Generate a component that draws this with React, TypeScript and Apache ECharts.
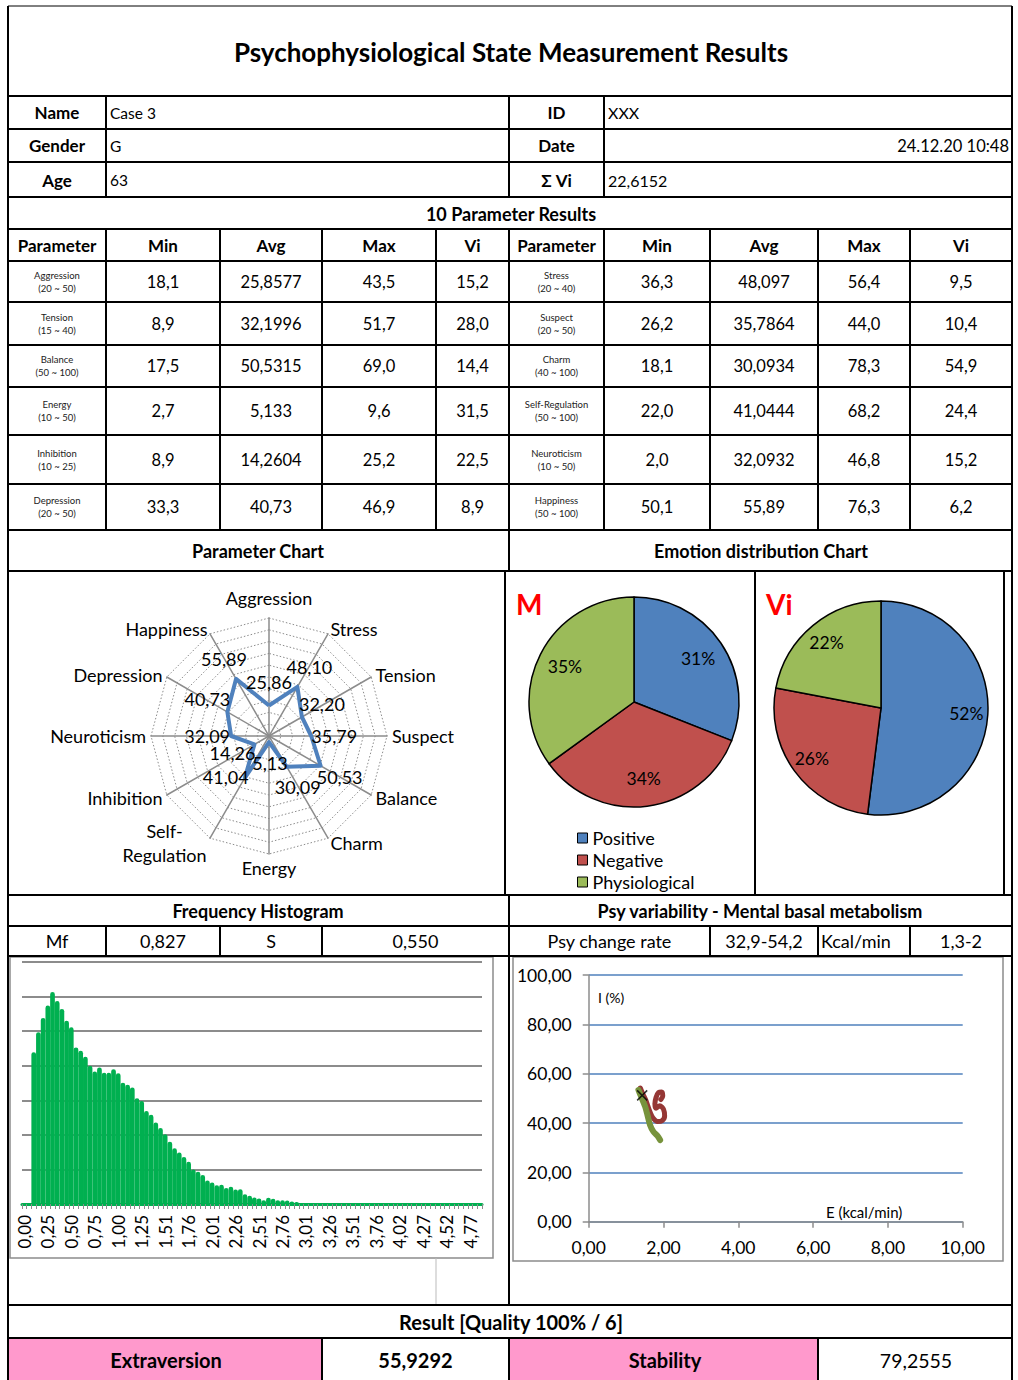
import React, { useEffect, useRef } from 'react';
import * as echarts from 'echarts';

const FONT = 'Lato';

// ---------- table data ----------
const TITLE = 'Psychophysiological State Measurement Results';
const INFO_LEFT_LABELS = ['Name', 'Gender', 'Age'];
const INFO_LEFT_VALUES = ['Case 3', 'G', '63'];
const INFO_RIGHT_LABELS = ['ID', 'Date', 'Σ Vi'];
const INFO_RIGHT_VALUES = ['XXX', '', '22,6152'];
const DATE_VALUE = '24.12.20 10:48';
const HEADERS = ['Parameter', 'Min', 'Avg', 'Max', 'Vi', 'Parameter', 'Min', 'Avg', 'Max', 'Vi'];

const LEFT_PARAMS = ['Aggression', 'Tension', 'Balance', 'Energy', 'Inhibition', 'Depression'];
const LEFT_RANGES = ['(20 ~ 50)', '(15 ~ 40)', '(50 ~ 100)', '(10 ~ 50)', '(10 ~ 25)', '(20 ~ 50)'];
const LEFT_MIN = ['18,1', '8,9', '17,5', '2,7', '8,9', '33,3'];
const LEFT_AVG = ['25,8577', '32,1996', '50,5315', '5,133', '14,2604', '40,73'];
const LEFT_MAX = ['43,5', '51,7', '69,0', '9,6', '25,2', '46,9'];
const LEFT_VI = ['15,2', '28,0', '14,4', '31,5', '22,5', '8,9'];
const RIGHT_PARAMS = ['Stress', 'Suspect', 'Charm', 'Self-Regulation', 'Neuroticism', 'Happiness'];
const RIGHT_RANGES = ['(20 ~ 40)', '(20 ~ 50)', '(40 ~ 100)', '(50 ~ 100)', '(10 ~ 50)', '(50 ~ 100)'];
const RIGHT_MIN = ['36,3', '26,2', '18,1', '22,0', '2,0', '50,1'];
const RIGHT_AVG = ['48,097', '35,7864', '30,0934', '41,0444', '32,0932', '55,89'];
const RIGHT_MAX = ['56,4', '44,0', '78,3', '68,2', '46,8', '76,3'];
const RIGHT_VI = ['9,5', '10,4', '54,9', '24,4', '15,2', '6,2'];

const MF_ROW = ['Mf', '0,827', 'S', '0,550'];
const PSY_ROW = ['Psy change rate', '32,9-54,2', 'Kcal/min', '1,3-2'];
const RESULT_TITLE = 'Result [Quality 100% / 6]';
const RESULT_ROW = ['Extraversion', '55,9292', 'Stability', '79,2555'];

// ---------- radar (clockwise from top) ----------
const RADAR_AXES = ['Aggression', 'Stress', 'Tension', 'Suspect', 'Balance', 'Charm', 'Energy',
  'Self-Regulation', 'Inhibition', 'Neuroticism', 'Depression', 'Happiness'];
const RADAR_VALUES = [25.86, 48.10, 32.20, 35.79, 50.53, 30.09, 5.13, 41.04, 14.26, 32.09, 40.73, 55.89];
const RADAR_MAX = 100;
// label offsets (style only), clockwise order
const RADAR_LABEL_OFFSETS = [[0, -23], [12, -20], [20, -13], [23, 0], [19, 11], [11, 20], [1, 21],
  [-19, -1], [-22, 9], [-24, 0], [-20, -13], [-12, -20]];

// ---------- pies ----------
const PIE_NAMES = ['Positive', 'Negative', 'Physiological'];
const PIE_M = [31, 34, 35];
const PIE_VI = [52, 26, 22];
const PIE_COLORS = ['#4F81BD', '#C0504D', '#9BBB59'];

// ---------- histogram ----------
const HIST_TICK_LABELS = ['0,00', '0,25', '0,50', '0,75', '1,00', '1,25', '1,51', '1,76', '2,01', '2,26',
  '2,51', '2,76', '3,01', '3,26', '3,51', '3,76', '4,02', '4,27', '4,52', '4,77'];
const HIST_LABEL_EVERY = 5;
const HIST_VALUES = [
  0, 0, 43.9, 49.7, 53.8, 57.4, 61.3, 58.7, 56.4, 53.0,
  51.1, 45.3, 44.3, 42.6, 40.0, 38.3, 39.5, 38.0, 38.0, 39.0,
  37.8, 35.1, 34.5, 33.7, 30.6, 29.8, 26.9, 25.8, 23.6, 22.0,
  20.2, 18.0, 16.1, 14.9, 13.6, 12.2, 10.0, 9.3, 8.4, 6.8,
  6.2, 5.4, 5.6, 4.6, 5.0, 4.2, 4.3, 2.8, 2.4, 1.9,
  1.6, 1.1, 1.8, 1.5, 1.1, 1.1, 1.0, 0.7, 0.6, 0,
  0, 0, 0, 0, 0, 0, 0, 0, 0, 0,
  0, 0, 0, 0, 0, 0, 0, 0, 0, 0,
  0, 0, 0, 0, 0, 0, 0, 0, 0, 0,
  0, 0, 0, 0, 0, 0, 0, 0,
];

// ---------- scatter (E kcal/min, I %) ----------
const PSY_RED = [[1.38, 54.2], [1.44, 52.0], [1.52, 49.5], [1.58, 47.0], [1.64, 44.5], [1.72, 42.0],
  [1.84, 40.6], [1.96, 40.9], [2.03, 42.8], [2.00, 45.6], [1.90, 47.0], [1.80, 46.0], [1.77, 47.8],
  [1.80, 50.3], [1.87, 52.4], [1.95, 52.6], [1.98, 51.0], [1.93, 49.5]];
const PSY_GREEN = [[1.33, 53.4], [1.38, 51.5], [1.42, 50.0], [1.47, 48.2], [1.51, 46.6], [1.57, 43.3],
  [1.64, 39.2], [1.73, 36.5], [1.84, 34.8], [1.91, 33.1]];
const PSY_MARK = [[1.43, 51.2]];

const fmt2 = (v: number) => v.toFixed(2).replace('.', ',');

function buildGraphics() {
  const g: any[] = [];
  const line = (x1: number, y1: number, x2: number, y2: number, w = 2, c = '#000') =>
    g.push({ type: 'line', silent: true, z: 50, shape: { x1, y1, x2, y2 }, style: { stroke: c, lineWidth: w } });
  const text = (t: string, x: number, y: number, size = 16, bold = false, align = 'center', color = '#000') =>
    g.push({
      type: 'text', silent: true, z: 60, x, y,
      style: {
        text: t, fill: color, font: `${bold ? 'bold ' : ''}${size}px ${FONT}`,
        align, verticalAlign: 'middle', textAlign: align, textVerticalAlign: 'middle',
      },
    });

  // pink fills
  g.push({ type: 'rect', silent: true, z: 1, shape: { x: 8, y: 1338, width: 314, height: 42 }, style: { fill: '#FF99CC' } });
  g.push({ type: 'rect', silent: true, z: 1, shape: { x: 509, y: 1338, width: 309, height: 42 }, style: { fill: '#FF99CC' } });

  // chart area borders (grey)
  g.push({ type: 'rect', silent: true, z: 1, shape: { x: 10, y: 957, width: 483, height: 301 }, style: { fill: 'none', stroke: '#8C8C8C', lineWidth: 1.5 } });
  g.push({ type: 'rect', silent: true, z: 1, shape: { x: 513, y: 957, width: 490, height: 304 }, style: { fill: 'none', stroke: '#8C8C8C', lineWidth: 1.5 } });
  line(436, 1258, 436, 1305, 1, '#BBBBBB');

  // outer frame
  line(8, 6, 1012, 6, 1);
  line(8, 6, 8, 1380, 2);
  line(1012, 6, 1012, 1380, 2);

  // horizontal lines
  [96, 129, 162, 197, 229, 261, 302, 345, 387, 435, 484, 530, 571, 895, 926, 956, 1305, 1338]
    .forEach((y) => line(8, y, 1012, y, 2));

  // vertical lines
  [106, 509, 604].forEach((x) => line(x, 96, x, 197));
  [106, 220, 322, 436, 509, 604, 710, 818, 910].forEach((x) => line(x, 229, x, 530));
  line(509, 530, 509, 571);
  [505, 755, 1004].forEach((x) => line(x, 571, x, 895, 2));
  line(509, 895, 509, 926);
  [106, 220, 322, 509, 710, 818, 910].forEach((x) => line(x, 926, x, 956));
  line(509, 956, 509, 1305);
  [322, 509, 818].forEach((x) => line(x, 1338, x, 1380));

  // title
  text(TITLE, 511, 52, 26, true);

  // info rows
  const infoY = [112.5, 145.5, 180];
  infoY.forEach((y, i) => {
    text(INFO_LEFT_LABELS[i], 57, y, 17, true);
    text(INFO_LEFT_VALUES[i], 110, y, 15.5, false, 'left');
    text(INFO_RIGHT_LABELS[i], 556.5, y, 17, true);
    if (INFO_RIGHT_VALUES[i]) text(INFO_RIGHT_VALUES[i], 608, y, 16, false, 'left');
  });
  text(DATE_VALUE, 1009, infoY[1], 16.5, false, 'right');

  text('10 Parameter Results', 511, 213.5, 18, true);
  const colCenters = [57, 163, 271, 379, 472.5, 556.5, 657, 764, 864, 961];
  HEADERS.forEach((h, i) => text(h, colCenters[i], 245, 17, true));

  const rowsY = [261, 302, 345, 387, 435, 484, 530];
  for (let i = 0; i < 6; i++) {
    const cy = (rowsY[i] + rowsY[i + 1]) / 2;
    text(LEFT_PARAMS[i], 57, cy - 6.5, 9.5, false, 'center', '#222');
    text(LEFT_RANGES[i], 57, cy + 6.5, 9.5, false, 'center', '#222');
    text(LEFT_MIN[i], colCenters[1], cy, 16.5);
    text(LEFT_AVG[i], colCenters[2], cy, 16.5);
    text(LEFT_MAX[i], colCenters[3], cy, 16.5);
    text(LEFT_VI[i], colCenters[4], cy, 16.5);
    text(RIGHT_PARAMS[i], 556.5, cy - 6.5, 9.5, false, 'center', '#222');
    text(RIGHT_RANGES[i], 556.5, cy + 6.5, 9.5, false, 'center', '#222');
    text(RIGHT_MIN[i], colCenters[6], cy, 16.5);
    text(RIGHT_AVG[i], colCenters[7], cy, 16.5);
    text(RIGHT_MAX[i], colCenters[8], cy, 16.5);
    text(RIGHT_VI[i], colCenters[9], cy, 16.5);
  }

  text('Parameter Chart', 258, 551, 18, true);
  text('Emotion distribution Chart', 761, 551, 18, true);
  text('M', 516, 604, 28, true, 'left', '#FF0000');
  text('Vi', 766, 604, 28, true, 'left', '#FF0000');

  text('Frequency Histogram', 258, 911, 18, true);
  text('Psy variability - Mental basal metabolism', 760, 911, 18, true);
  const mfX = [57, 163, 271, 415.5];
  MF_ROW.forEach((t, i) => text(t, mfX[i], 941, 18));
  text(PSY_ROW[0], 609.5, 941, 18);
  text(PSY_ROW[1], 764, 941, 18);
  text(PSY_ROW[2], 821, 941, 18, false, 'left');
  text(PSY_ROW[3], 961, 941, 18);

  text('I (%)', 598, 997, 14, false, 'left');
  text('E (kcal/min)', 826, 1212, 15, false, 'left');

  text(RESULT_TITLE, 511, 1322, 20, true);
  text(RESULT_ROW[0], 166, 1360, 20, true);
  text(RESULT_ROW[1], 415.5, 1360, 20, true);
  text(RESULT_ROW[2], 665, 1360, 20, true);
  text(RESULT_ROW[3], 916, 1360, 19.5, false);
  return g;
}

function buildOption() {
  // ECharts radar runs counter-clockwise; reorder to reproduce clockwise layout.
  const ccw = [0, 11, 10, 9, 8, 7, 6, 5, 4, 3, 2, 1];
  const indicators = ccw.map((i) => ({ name: RADAR_AXES[i], max: RADAR_MAX, min: 0 }));
  const valuesCCW = ccw.map((i) => RADAR_VALUES[i]);

  const radarLabelSeries = ccw.map((origIdx, k) => ({
    type: 'radar',
    radarIndex: 0,
    silent: true,
    z: 3,
    symbol: 'circle',
    symbolSize: 1,
    itemStyle: { color: 'rgba(0,0,0,0)' },
    lineStyle: { width: 0, color: 'rgba(0,0,0,0)' },
    label: {
      show: true,
      position: 'inside',
      offset: RADAR_LABEL_OFFSETS[origIdx],
      fontSize: 18,
      lineHeight: 18,
      fontFamily: FONT,
      color: '#000',
      formatter: (p: any) => {
        let dim = p.dimensionIndex;
        let v = p.value;
        if (Array.isArray(v)) v = dim != null ? v[dim] : NaN;
        if (dim == null) dim = valuesCCW.indexOf(v);
        return dim === k ? fmt2(v) : '';
      },
    },
    data: [{ value: valuesCCW }],
  }));

  const pieBase = {
    type: 'pie',
    startAngle: 90,
    clockwise: true,
    silent: true,
    avoidLabelOverlap: false,
    itemStyle: { borderColor: '#000', borderWidth: 1.5 },
    label: { show: false },
    labelLine: { show: false },
  };
  const pieData = (vals: number[]) => vals.map((v, i) => ({ name: PIE_NAMES[i], value: v, itemStyle: { color: PIE_COLORS[i] } }));
  const pieLabels = (vals: number[], center: number[], r0: number, r: number) => ({
    type: 'pie', startAngle: 90, clockwise: true, silent: true, z: 5,
    center, radius: [r0, r],
    itemStyle: { color: 'rgba(0,0,0,0)', borderWidth: 0 },
    label: { show: true, position: 'inside', formatter: '{c}%', fontSize: 17.5, fontFamily: FONT, color: '#000' },
    labelLine: { show: false },
    data: vals.map((v, i) => ({ name: PIE_NAMES[i], value: v })),
  });

  return {
    animation: false,
    backgroundColor: '#ffffff',
    textStyle: { fontFamily: FONT },
    graphic: buildGraphics(),
    legend: {
      left: 577, top: 829, padding: 0, orient: 'vertical', itemWidth: 10, itemHeight: 10, itemGap: 4,
      icon: 'rect', selectedMode: false,
      data: PIE_NAMES.map((n, i) => ({ name: n, itemStyle: { color: PIE_COLORS[i], borderColor: '#000', borderWidth: 1 } })),
      textStyle: { fontSize: 18, color: '#000', fontFamily: FONT, lineHeight: 18 },
    },
    radar: {
      center: [269, 736],
      radius: 118,
      startAngle: 90,
      shape: 'polygon',
      splitNumber: 10,
      nameGap: 5,
      indicator: indicators,
      axisName: {
        color: '#000', fontSize: 18, fontFamily: FONT,
        formatter: (name: string) => {
          if (name === 'Self-Regulation') return '{c|Self-}\n{c|Regulation}';
          if (name === 'Aggression') return '{t|Aggression}';
          return name;
        },
        rich: {
          c: { width: 86, align: 'center', fontSize: 18, lineHeight: 24, fontFamily: FONT, color: '#000' },
          t: { fontSize: 18, fontFamily: FONT, color: '#000', padding: [0, 0, 6, 0] },
        },
      },
      splitLine: { lineStyle: { color: '#8C8C8C', type: [1.5, 2], width: 1 } },
      splitArea: { show: false },
      axisLine: { lineStyle: { color: '#8C8C8C', width: 1.5 } },
      axisTick: { show: false },
      axisLabel: { show: false },
    },
    grid: [
      { left: 22, top: 962, width: 460, height: 242 },
      { left: 588.7, top: 975, width: 374, height: 246.7 },
    ],
    xAxis: [
      {
        type: 'category', gridIndex: 0,
        data: HIST_VALUES.map((_, i) => String(i)),
        boundaryGap: true,
        axisLine: { lineStyle: { color: '#00B050', width: 3 } },
        axisTick: { show: true, interval: 0, length: 5, lineStyle: { color: '#8C8C8C', width: 1 } },
        axisLabel: {
          interval: HIST_LABEL_EVERY - 1, rotate: 90, fontSize: 17, color: '#000', margin: 11, fontFamily: FONT,
          formatter: (_v: string, idx: number) => HIST_TICK_LABELS[idx / HIST_LABEL_EVERY] ?? '',
        },
        splitLine: { show: false },
      },
      {
        type: 'value', gridIndex: 1, min: 0, max: 10, interval: 2,
        axisLine: { show: true, onZero: false, lineStyle: { color: '#8C8C8C', width: 1.5 } },
        axisTick: { show: true, inside: false, length: 6, lineStyle: { color: '#8C8C8C', width: 1.5 } },
        axisLabel: { fontSize: 17.5, color: '#000', margin: 17, fontFamily: FONT, formatter: (v: number) => fmt2(v) },
        splitLine: { show: false },
      },
    ],
    yAxis: [
      {
        type: 'value', gridIndex: 0, min: 0, max: 70, interval: 10,
        axisLine: { show: false }, axisTick: { show: false }, axisLabel: { show: false },
        splitLine: { show: true, lineStyle: { color: '#8C8C8C', width: 2 } },
      },
      {
        type: 'value', gridIndex: 1, min: 0, max: 100, interval: 20,
        axisLine: { show: true, lineStyle: { color: '#8C8C8C', width: 1.5 } },
        axisTick: { show: true, inside: false, length: 6, lineStyle: { color: '#8C8C8C', width: 1.5 } },
        axisLabel: { fontSize: 17.5, color: '#000', margin: 17, fontFamily: FONT, formatter: (v: number) => fmt2(v) },
        splitLine: { show: true, lineStyle: { color: '#4F81BD', width: 1.5 } },
      },
    ],
    series: [
      {
        type: 'radar', radarIndex: 0, silent: true, z: 2,
        symbol: 'none',
        lineStyle: { color: '#4F81BD', width: 4 },
        data: [{ value: valuesCCW }],
      },
      ...radarLabelSeries,
      { ...pieBase, center: [634, 702], radius: 105, data: pieData(PIE_M) },
      { ...pieBase, center: [881, 708], radius: 107, data: pieData(PIE_VI) },
      pieLabels(PIE_M, [634, 702], 44, 105),
      pieLabels(PIE_VI, [881, 708], 58, 107),
      {
        type: 'bar', xAxisIndex: 0, yAxisIndex: 0, silent: true,
        barCategoryGap: '0%',
        itemStyle: { color: '#00B050', borderRadius: [3, 3, 0, 0] },
        data: HIST_VALUES,
      },
      {
        type: 'line', xAxisIndex: 1, yAxisIndex: 1, silent: true, showSymbol: false, symbol: 'none',
        smooth: 0.3, lineStyle: { color: '#953735', width: 5, cap: 'round', join: 'round' },
        data: PSY_RED,
      },
      {
        type: 'line', xAxisIndex: 1, yAxisIndex: 1, silent: true, showSymbol: false, symbol: 'none',
        smooth: 0.3, lineStyle: { color: '#77933C', width: 6, cap: 'round', join: 'round' },
        data: PSY_GREEN,
      },
      {
        type: 'scatter', xAxisIndex: 1, yAxisIndex: 1, silent: true, z: 5,
        symbol: 'path://M0,0L10,10M10,0L0,10', symbolSize: 10,
        itemStyle: { color: 'none', borderColor: '#000', borderWidth: 1.5 },
        data: PSY_MARK,
      },
    ],
  };
}

export default function App() {
  const ref = useRef<HTMLDivElement>(null);
  useEffect(() => {
    if (!ref.current) return;
    const chart = echarts.init(ref.current, undefined, { renderer: 'svg' });
    chart.setOption(buildOption() as any);
    return () => chart.dispose();
  }, []);
  return (
    <div
      ref={ref}
      style={{ position: 'absolute', left: 0, top: 0, width: 1018, height: 1380, background: '#fff' }}
    />
  );
}
